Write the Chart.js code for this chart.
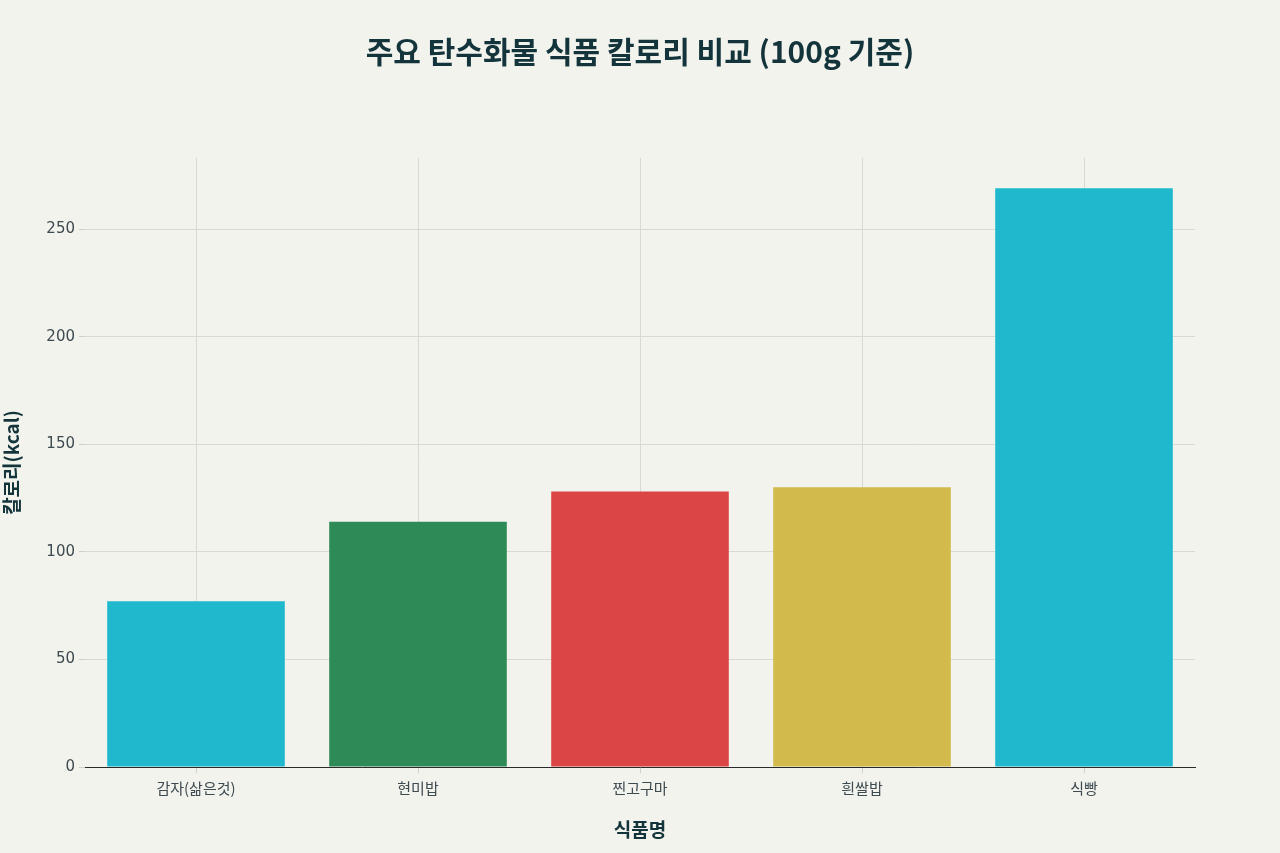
<!DOCTYPE html>
<html><head><meta charset="utf-8">
<script src="https://cdn.jsdelivr.net/npm/chart.js@4/dist/chart.umd.min.js"></script>
<style>html,body{margin:0;padding:0;background:#F3F3EE;}#wrap{width:1280px;height:853px;}</style>
</head><body><div id="wrap"><canvas id="c" width="1280" height="853"></canvas></div>
<script>
const categories = ['감자(삶은것)', '현미밥', '찐고구마', '흰쌀밥', '식빵'];
const calories = [77, 114, 128, 130, 269];
const barColors = ['#1FB8CD', '#2E8B57', '#DB4545', '#D2BA4C', '#1FB8CD'];
const chartTitle = '주요 탄수화물 식품 칼로리 비교 (100g 기준)';
const xTitle = '식품명';
const yTitle = '칼로리(kcal)';
const yMax = 283;
const yStep = 50;

const FONT = "'Noto Sans CJK KR', 'Noto Sans', sans-serif";
const TICKFONT = "'DejaVu Sans', 'Noto Sans CJK KR', sans-serif";
const bgPlugin = {id:'bg', beforeDraw(ch){const c=ch.ctx;c.save();c.fillStyle='#F3F3EE';c.fillRect(0,0,ch.width,ch.height);c.restore();}};

new Chart(document.getElementById('c'), {
  type: 'bar',
  data: { labels: categories, datasets: [{ data: calories, backgroundColor: barColors, borderWidth: 0, categoryPercentage: 1.0, barPercentage: 0.8 }] },
  options: {
    responsive: false, animation: false,
    layout: { padding: 0 },
    plugins: {
      legend: { display: false }, tooltip: { enabled: false },
      title: { display: true, text: chartTitle, color: '#13343B', font: { family: FONT, size: 30, weight: 'bold', lineHeight: 1.2 }, padding: { top: 34, bottom: 88 } }
    },
    scales: {
      x: {
        grid: { display: true, offset: false, color: '#D9D9D4', lineWidth: 1, tickLength: 6, drawTicks: true, tickColor: '#D0D0CB' },
        border: { display: true, color: '#2A2A2A', width: 1 },
        ticks: { color: '#3D4A4F', font: { family: FONT, size: 15 }, padding: 6 },
        title: { display: true, text: xTitle, color: '#13343B', font: { family: FONT, size: 19, weight: 'bold', lineHeight: 1.2 }, padding: { top: 0, bottom: 12 } },
        afterFit(s){ s.height = 86; }
      },
      y: {
        min: 0, max: yMax,
        grid: { color: '#D9D9D4', lineWidth: 1, tickLength: 6, tickColor: '#D0D0CB' },
        border: { display: false },
        ticks: { stepSize: yStep, color: '#3D4A4F', font: { family: TICKFONT, size: 15 }, padding: 4 },
        afterBuildTicks(s){ s.ticks = s.ticks.filter(t => t.value % yStep === 0); },
        title: { display: true, text: yTitle, color: '#13343B', font: { family: FONT, size: 19, weight: 'bold', lineHeight: 1.2 }, padding: { top: 0, bottom: 0 } },
        afterFit(s){ s.width = 85; }
      },
      yR: {
        position: 'right', display: true, min: 0, max: yMax,
        grid: { display: false, drawOnChartArea: false }, border: { display: false },
        ticks: { display: false },
        afterFit(s){ s.width = 85; }
      }
    }
  },
  plugins: [bgPlugin]
});
</script></body></html>
